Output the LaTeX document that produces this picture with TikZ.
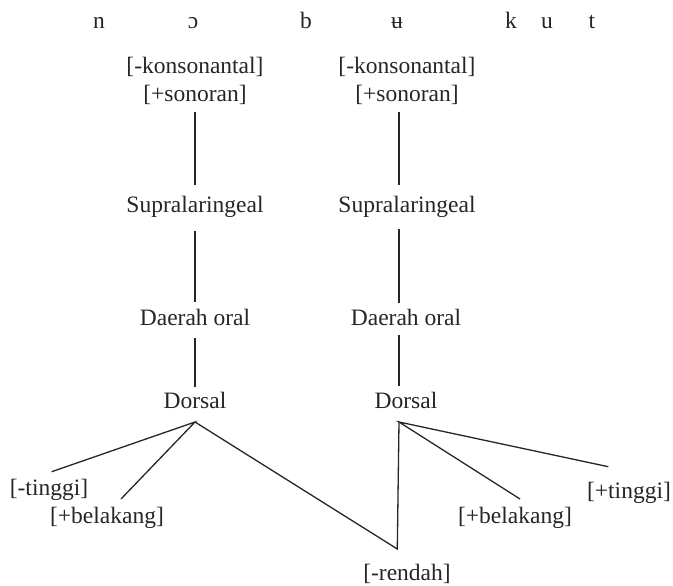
\documentclass[tikz,border=0pt]{standalone}
\usepackage{fontspec}
\setmainfont{Liberation Serif}
\begin{document}
\begin{tikzpicture}[x=1pt,y=-1pt,
  lbl/.style={inner sep=0pt,anchor=base,text=black!85,font=\fontsize{23.5}{28}\selectfont},
  seg/.style={line width=1.3pt,draw=black!85}]
\useasboundingbox (0,0) rectangle (673,586);
% segment row
\node[lbl] (pn) at (99,28.5) {n};
\node[lbl] (po) at (193,28.5) {ɔ};
\node[lbl] (pb) at (306,28.5) {b};
\node[lbl] (pu) at (397,28.5) {ʉ};
\node[lbl] (pk) at (511,28.5) {k};
\node[lbl] (pu2) at (547,28.5) {u};
\node[lbl] (pt) at (592,28.5) {t};
% left column
\node[lbl] (kL) at (195,73.5) {[-konsonantal]};
\node[lbl] (nL) at (195,101.5) {[+sonoran]};
\node[lbl] (sL) at (195,212.5) {Supralaringeal};
\node[lbl] (dL) at (195,325) {Daerah oral};
\node[lbl] (oL) at (195,408) {Dorsal};
% right column
\node[lbl] (kR) at (407,73.5) {[-konsonantal]};
\node[lbl] (nR) at (407,101.5) {[+sonoran]};
\node[lbl] (sR) at (407,212.5) {Supralaringeal};
\node[lbl] (dR) at (406,325) {Daerah oral};
\node[lbl] (oR) at (406,408) {Dorsal};
% feature leaves
\node[lbl] (tL) at (49,495) {[-tinggi]};
\node[lbl] (bL) at (107,523) {[+belakang]};
\node[lbl] (rr) at (407,580) {[-rendah]};
\node[lbl] (bR) at (515,523) {[+belakang]};
\node[lbl] (tR) at (629,498) {[+tinggi]};
% vertical stems (right column stems sit at x = 399)
\draw[seg] ([yshift=-11pt]nL.base) -- ([yshift=27.5pt]sL.base);
\draw[seg] ([yshift=-18pt]sL.base) -- ([yshift=23pt]dL.base);
\draw[seg] ([yshift=-13pt]dL.base) -- ([yshift=21pt]oL.base);
\draw[seg] ([xshift=-8pt,yshift=-11pt]nR.base) -- ([xshift=-8pt,yshift=27.5pt]sR.base);
\draw[seg] ([xshift=-8pt,yshift=-16pt]sR.base) -- ([xshift=-7pt,yshift=22pt]dR.base);
\draw[seg] ([xshift=-7pt,yshift=-10pt]dR.base) -- ([xshift=-7pt,yshift=22pt]oR.base);
% branching from Dorsal
\coordinate (aL) at ([yshift=-14pt]oL.base);
\coordinate (aR) at ([xshift=-7pt,yshift=-14pt]oR.base);
\draw[seg] ([xshift=2.7pt,yshift=23.3pt]tL.base) -- (aL) -- ([xshift=14pt,yshift=24pt]bL.base);
\draw[seg] (aL) -- ([xshift=-9.7pt,yshift=31pt]rr.base) -- (aR);
\draw[seg] ([xshift=5pt,yshift=24pt]bR.base) -- (aR) -- ([xshift=-20.7pt,yshift=31.3pt]tR.base);
\end{tikzpicture}
\end{document}
